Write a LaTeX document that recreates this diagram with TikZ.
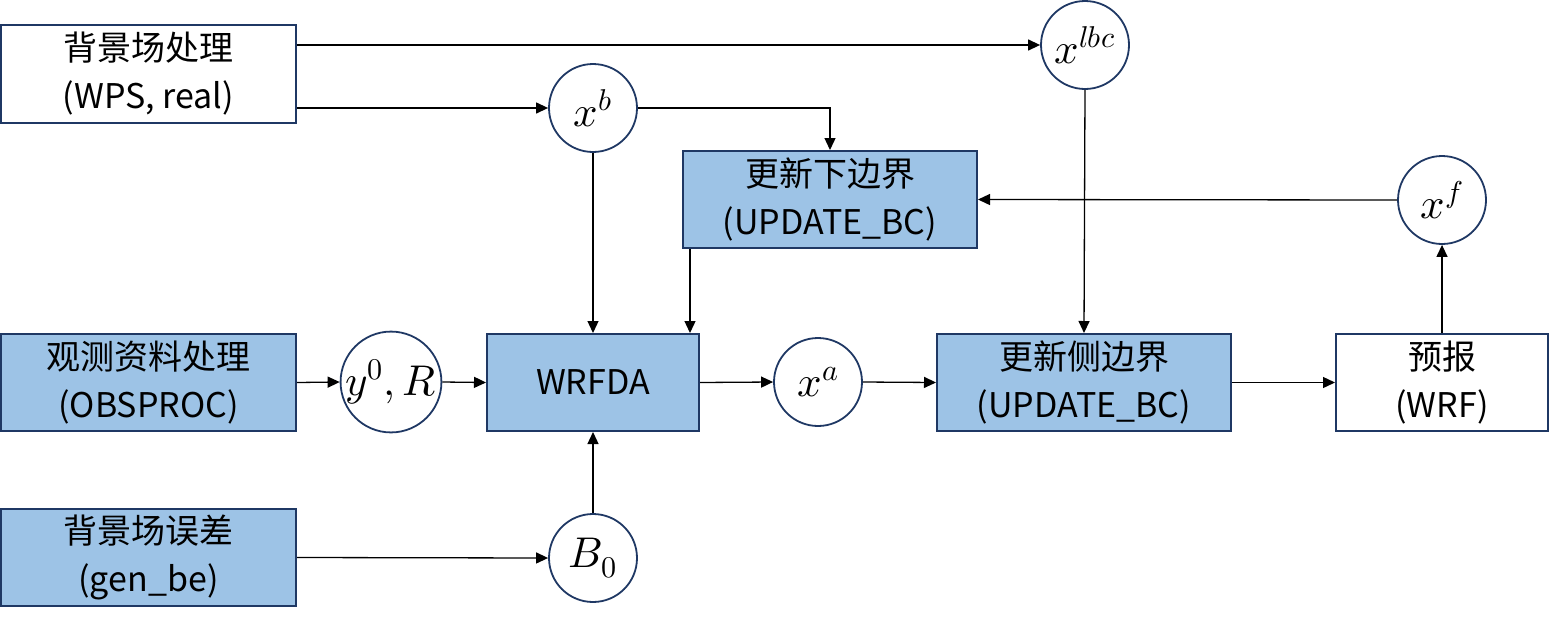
\documentclass[tikz,border=0pt]{standalone}
\usepackage{fontspec}
\usepackage{unicode-math}
\setmainfont{Noto Sans CJK SC}
\setmathfont{Latin Modern Math}
\usetikzlibrary{arrows.meta}
\definecolor{bdr}{HTML}{1F3864}
\definecolor{bfill}{HTML}{9DC3E6}
\tikzset{
  box/.style={draw=bdr, line width=2pt, rectangle, align=center, inner sep=0pt,
    font=\fontsize{34}{48}\selectfont},
  wbox/.style={box, fill=white},
  bbox/.style={box, fill=bfill},
  var/.style={draw=bdr, line width=1.8pt, circle, minimum size=88pt, inner sep=0pt, fill=white,
    font=\fontsize{43}{48}\selectfont},
  arr/.style={line width=1.3pt, -{Triangle[length=12pt,width=11pt]}},
}
\begin{document}
\begin{tikzpicture}[x=1pt,y=-1pt]
\useasboundingbox (0,0) rectangle (1550,627);
% boxes
\node[wbox, minimum width=295pt, minimum height=98pt] (bg) at (148.5,74) {背景场处理\\(WPS, real)};
\node[bbox, minimum width=295pt, minimum height=97pt] (obs) at (148.5,382.5) {观测资料处理\\(OBSPROC)};
\node[bbox, minimum width=295pt, minimum height=97pt] (gb) at (148.5,557.5) {背景场误差\\(gen\_be)};
\node[bbox, minimum width=212pt, minimum height=97pt] (wrf) at (593,382.5) {WRFDA};
\node[bbox, minimum width=294pt, minimum height=97pt] (lbnd) at (830,199.5) {更新下边界\\(UPDATE\_BC)};
\node[bbox, minimum width=294pt, minimum height=97pt] (lat) at (1084,382.5) {更新侧边界\\(UPDATE\_BC)};
\node[wbox, minimum width=212pt, minimum height=97pt] (fc) at (1442,382.5) {预报\\(WRF)};
% variables
\node[var] (xb) at (593,108) {$x^{b}$};
\node[var] (lbc) at (1085,45) {$x^{lbc}$};
\node[var] (xf) at (1442,200) {$x^{f}$};
\node[var] (yr) at (391,382) {$y^{0},R$};
\node[var] (xa) at (818,382) {$x^{a}$};
\node[var] (b0) at (593,558) {$B_{0}$};
% connectors
\draw[arr] (bg.east |- lbc) -- (lbc.west);
\draw[arr] (bg.east |- xb) -- (xb.west);
\draw[arr] (xb.east) -| (lbnd.north);
\draw[arr] (xb.south) -- (wrf.north);
\draw[arr] ([xshift=8pt]lbnd.south west) -- ([xshift=8pt]lbnd.south west |- wrf.north);
\draw[arr] (xf.west) -- (lbnd.east);
\draw[arr] (lbc.south) -- (lat.north);
\draw[arr] (obs.east) -- (yr.west);
\draw[arr] (yr.east) -- (wrf.west);
\draw[arr] (wrf.east) -- (xa.west);
\draw[arr] (xa.east) -- (lat.west);
\draw[arr] (lat.east) -- (fc.west);
\draw[arr] (fc.north) -- (xf.south);
\draw[arr] (gb.east) -- (b0.west);
\draw[arr] (b0.north) -- (wrf.south);
\end{tikzpicture}
\end{document}
